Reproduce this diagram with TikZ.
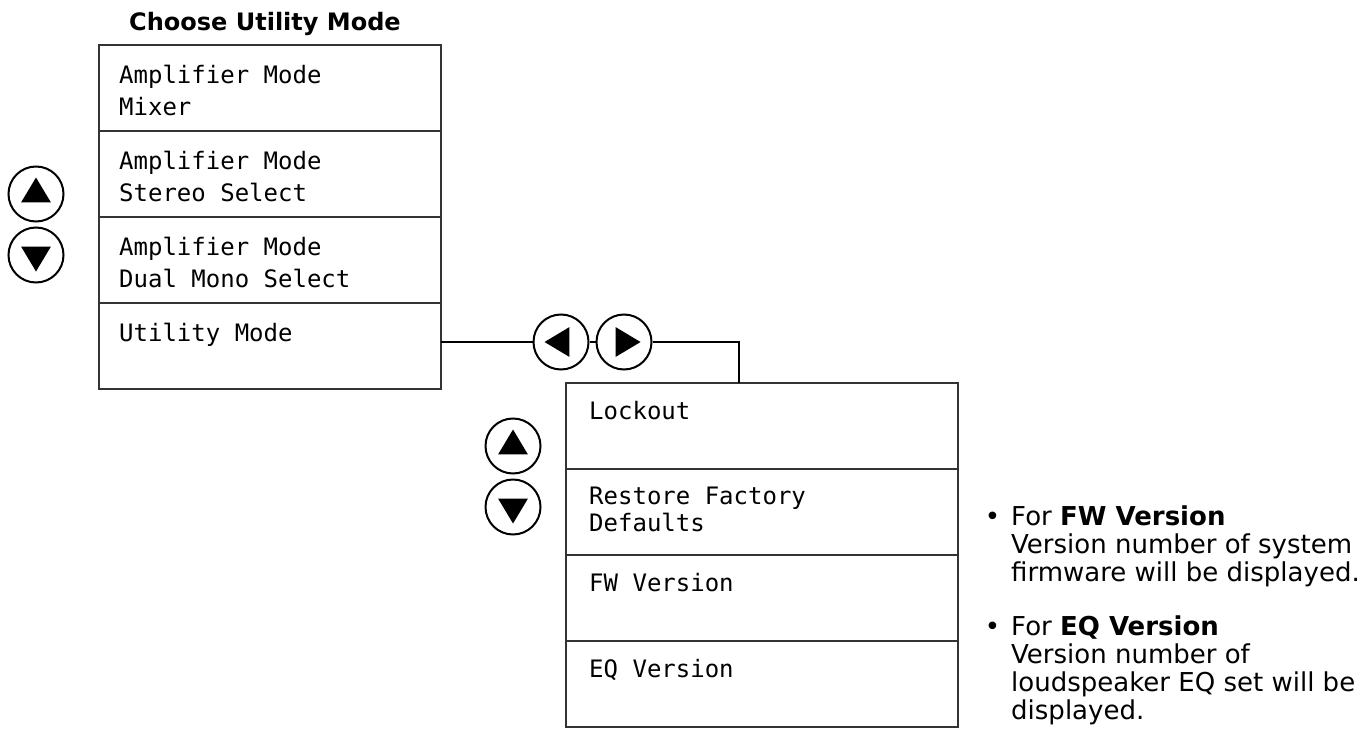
\documentclass[tikz,border=0pt]{standalone}
\usepackage{fontspec}
\setmainfont{DejaVu Sans}
\newfontfamily\lcdfont{DejaVu Sans Mono}
\usetikzlibrary{positioning}

\begin{document}
\begin{tikzpicture}[x=1pt, y=-1pt,
  row/.style={draw=black!80, line width=1.5pt, inner sep=0pt, outer sep=0pt, minimum height=86pt},
  lcd/.style={font=\lcdfont\fontsize{24}{32}\selectfont, align=left, anchor=north west, inner sep=0pt},
  lcdsub/.style={lcd, font=\lcdfont\fontsize{24}{27}\selectfont},
  btn/.style={circle, draw, line width=2pt, minimum size=55pt, inner sep=0pt},
  arrowbtn/.style={btn, path picture={\fill ([shift={(90+#1:16.5pt)}]path picture bounding box.center)
    -- ([shift={(209.5+#1:17.2pt)}]path picture bounding box.center)
    -- ([shift={(330.5+#1:17.2pt)}]path picture bounding box.center) -- cycle;}},
  note/.style={font=\fontsize{26}{28}\selectfont, align=left, anchor=north west, inner sep=0pt},
  wire/.style={draw, line width=2pt}]
\useasboundingbox (0,0) rectangle (1367,733);

% main menu
\node[font=\bfseries\fontsize{24}{28}\selectfont, anchor=base] (title) at (265,31) {Choose Utility Mode};
\node[row, minimum width=342pt, anchor=north west] (m1) at (99,45) {};
\node[row, minimum width=342pt, below=0pt of m1] (m2) {};
\node[row, minimum width=342pt, below=0pt of m2] (m3) {};
\node[row, minimum width=342pt, below=0pt of m3] (m4) {};
\node[lcd] (t1) at ([shift={(20,20)}]m1.north west) {Amplifier Mode\\Mixer};
\node[lcd] (t2) at ([shift={(20,20)}]m2.north west) {Amplifier Mode\\Stereo Select};
\node[lcd] (t3) at ([shift={(20,20)}]m3.north west) {Amplifier Mode\\Dual Mono Select};
\node[lcd] (t4) at ([shift={(20,20)}]m4.north west) {Utility Mode};
\node[arrowbtn=0] (upL) at (36,194) {};
\node[arrowbtn=180, below=4pt of upL] (dnL) {};

% utility menu
\node[row, minimum width=392pt, anchor=north west] (u1) at (566,383) {};
\node[row, minimum width=392pt, below=0pt of u1] (u2) {};
\node[row, minimum width=392pt, below=0pt of u2] (u3) {};
\node[row, minimum width=392pt, below=0pt of u3] (u4) {};
\node[lcdsub] (s1) at ([shift={(23,18)}]u1.north west) {Lockout};
\node[lcdsub] (s2) at ([shift={(23,18)}]u2.north west) {Restore Factory\\Defaults};
\node[lcdsub] (s3) at ([shift={(23,18)}]u3.north west) {FW Version};
\node[lcdsub] (s4) at ([shift={(23,18)}]u4.north west) {EQ Version};
\node[arrowbtn=0] (upR) at (513,446) {};
\node[arrowbtn=180, below=4pt of upR] (dnR) {};

% left/right buttons and links
\node[arrowbtn=90] (lt) at (561,342) {};
\node[arrowbtn=-90, right=6pt of lt] (rt) {};
\coordinate (drop) at ([xshift=-23pt]u1.north);
\draw[wire] (m4.east |- lt) -- (lt);
\draw[wire] (lt) -- (rt);
\draw[wire] (rt) -| (drop);

% notes
\node[note] (fw) at (1011,506) {\llap{•\hspace{11pt}}For \textbf{FW Version}\\Version number of system\\firmware will be displayed.};
\node[note] (eq) at (1011,616) {\llap{•\hspace{11pt}}For \textbf{EQ Version}\\Version number of\\loudspeaker EQ set will be\\displayed.};
\end{tikzpicture}
\end{document}
